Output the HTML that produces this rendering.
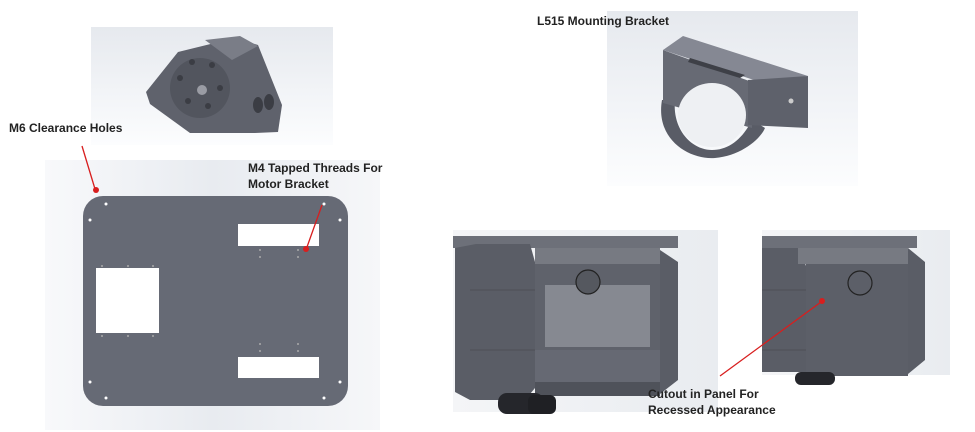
<!DOCTYPE html>
<html><head><meta charset="utf-8"><style>
html,body{margin:0;padding:0;background:#fff;width:975px;height:432px;overflow:hidden}
svg text{font-family:"Liberation Sans",sans-serif;font-size:12px;font-weight:bold;fill:#222}
</style></head><body>
<svg width="975" height="432" viewBox="0 0 975 432" xmlns="http://www.w3.org/2000/svg">
<defs>
<linearGradient id="bg" x1="0" y1="0" x2="0" y2="1">
<stop offset="0" stop-color="#e6e9ee"/><stop offset="0.6" stop-color="#f3f5f8"/><stop offset="1" stop-color="#fcfdfe"/></linearGradient>
<linearGradient id="bg2" x1="0" y1="0" x2="1" y2="0">
<stop offset="0" stop-color="#f8f9fb"/><stop offset="0.5" stop-color="#e8ebf0"/><stop offset="1" stop-color="#f6f7f9"/></linearGradient>
<linearGradient id="bg3" x1="0" y1="0" x2="1" y2="0">
<stop offset="0" stop-color="#f4f5f7"/><stop offset="1" stop-color="#e9ecf0"/></linearGradient>
</defs>

<!-- motor bracket -->
<rect x="91" y="27" width="242" height="118" fill="url(#bg)"/>
<polygon points="146,92 178,52 235,38 258,45 282,105 278,132 255,133 190,133 150,104" fill="#5f626c"/>
<polygon points="205,40 240,36 258,46 232,60" fill="#7a7d87"/>
<circle cx="200" cy="88" r="30" fill="#52555e"/>
<circle cx="202" cy="90" r="5" fill="#9a9ca4"/>
<g fill="#3b3d44"><circle cx="192" cy="62" r="3"/><circle cx="212" cy="65" r="3"/><circle cx="180" cy="78" r="3"/><circle cx="220" cy="88" r="3"/><circle cx="188" cy="101" r="3"/><circle cx="208" cy="106" r="3"/></g>
<ellipse cx="258" cy="105" rx="5" ry="8" fill="#3b3d44"/><ellipse cx="269" cy="102" rx="5" ry="8" fill="#3b3d44"/>

<!-- plate -->
<rect x="45" y="160" width="335" height="270" fill="url(#bg2)"/>
<rect x="83" y="196" width="265" height="210" rx="20" fill="#666a75"/>
<rect x="238" y="224" width="81" height="22" fill="#fff"/>
<rect x="96" y="268" width="63" height="65" fill="#fff"/>
<rect x="238" y="357" width="81" height="21" fill="#fff"/>
<g fill="#fff"><circle cx="106" cy="204" r="1.5"/><circle cx="324" cy="204" r="1.5"/><circle cx="90" cy="220" r="1.5"/><circle cx="340" cy="220" r="1.5"/><circle cx="90" cy="382" r="1.5"/><circle cx="340" cy="382" r="1.5"/><circle cx="106" cy="398" r="1.5"/><circle cx="324" cy="398" r="1.5"/></g>
<g fill="#aaa"><circle cx="102" cy="266" r="1"/><circle cx="128" cy="266" r="1"/><circle cx="153" cy="266" r="1"/><circle cx="102" cy="336" r="1"/><circle cx="128" cy="336" r="1"/><circle cx="153" cy="336" r="1"/><circle cx="260" cy="250" r="1"/><circle cx="298" cy="250" r="1"/><circle cx="260" cy="257" r="1"/><circle cx="298" cy="257" r="1"/><circle cx="260" cy="344" r="1"/><circle cx="298" cy="344" r="1"/><circle cx="260" cy="351" r="1"/><circle cx="298" cy="351" r="1"/></g>
<text x="9" y="132">M6 Clearance Holes</text>
<line x1="82" y1="146" x2="95" y2="189" stroke="#d81e1e" stroke-width="1.3"/><circle cx="96" cy="190" r="3" fill="#d81e1e"/>
<text x="248" y="172">M4 Tapped Threads For</text>
<text x="248" y="188">Motor Bracket</text>
<line x1="322" y1="205" x2="307" y2="247" stroke="#d81e1e" stroke-width="1.3"/><circle cx="306" cy="249" r="3" fill="#d81e1e"/>

<!-- L515 -->
<rect x="607" y="11" width="251" height="175" fill="url(#bg)"/>
<text x="537" y="25">L515 Mounting Bracket</text>
<path d="M662,100 C655,140 690,160 715,158 C740,156 760,140 765,128 L752,120 C742,140 728,150 712,150 C692,150 672,130 675,100 Z" fill="#595c66"/>
<polygon points="663,50 752,82 752,128 663,103" fill="#676a74"/>
<polygon points="663,50 683,36 808,76 760,82" fill="#858893"/>
<polygon points="748,80 808,76 808,128 748,125" fill="#5e616b"/>
<polygon points="690,58 745,75 740,78 688,62" fill="#3e4047"/>
<ellipse cx="712" cy="115" rx="34" ry="32" fill="#eef0f3"/>
<circle cx="791" cy="101" r="2.5" fill="#ccc"/>

<!-- robot 1 -->
<rect x="453" y="230" width="265" height="182" fill="url(#bg3)"/>
<rect x="453" y="236" width="225" height="12" fill="#6d7079"/>
<polygon points="455,248 476,244 530,244 535,262 535,388 525,400 470,400 455,392" fill="#5a5d66"/>
<line x1="470" y1="290" x2="535" y2="290" stroke="#444" stroke-width="0.6"/>
<line x1="470" y1="350" x2="535" y2="350" stroke="#444" stroke-width="0.6"/>
<rect x="535" y="248" width="125" height="16" fill="#777a82"/>
<rect x="535" y="264" width="125" height="128" fill="#5f626b"/>
<rect x="545" y="285" width="105" height="62" fill="#868991"/>
<rect x="535" y="350" width="125" height="32" fill="#666973"/>
<polygon points="660,250 678,262 678,380 660,394" fill="#5a5d66"/>
<rect x="535" y="382" width="125" height="14" fill="#4f525a"/>
<circle cx="588" cy="282" r="12" fill="#55585f" stroke="#222" stroke-width="1.2"/>
<rect x="498" y="393" width="46" height="21" rx="9" fill="#25262b"/>
<rect x="528" y="395" width="28" height="19" rx="6" fill="#1f2024"/>

<!-- robot 2 -->
<rect x="762" y="230" width="188" height="145" fill="url(#bg3)"/>
<rect x="762" y="236" width="155" height="12" fill="#6d7079"/>
<polygon points="762,248 800,248 806,266 806,372 762,372" fill="#5a5d66"/>
<line x1="762" y1="290" x2="806" y2="290" stroke="#444" stroke-width="0.6"/>
<line x1="762" y1="350" x2="806" y2="350" stroke="#444" stroke-width="0.6"/>
<rect x="798" y="248" width="110" height="16" fill="#777a82"/>
<rect x="806" y="264" width="102" height="112" fill="#5c5f68"/>
<polygon points="908,248 925,262 925,360 908,374" fill="#5a5d66"/>
<circle cx="860" cy="283" r="12" fill="#5c5f68" stroke="#222" stroke-width="1.2"/>
<rect x="795" y="372" width="40" height="13" rx="6" fill="#25262b"/>
<text x="648" y="398">Cutout in Panel For</text>
<text x="648" y="414">Recessed Appearance</text>
<line x1="720" y1="376" x2="821" y2="302" stroke="#d81e1e" stroke-width="1.3"/><circle cx="822" cy="301" r="3" fill="#d81e1e"/>
</svg>
</body></html>
